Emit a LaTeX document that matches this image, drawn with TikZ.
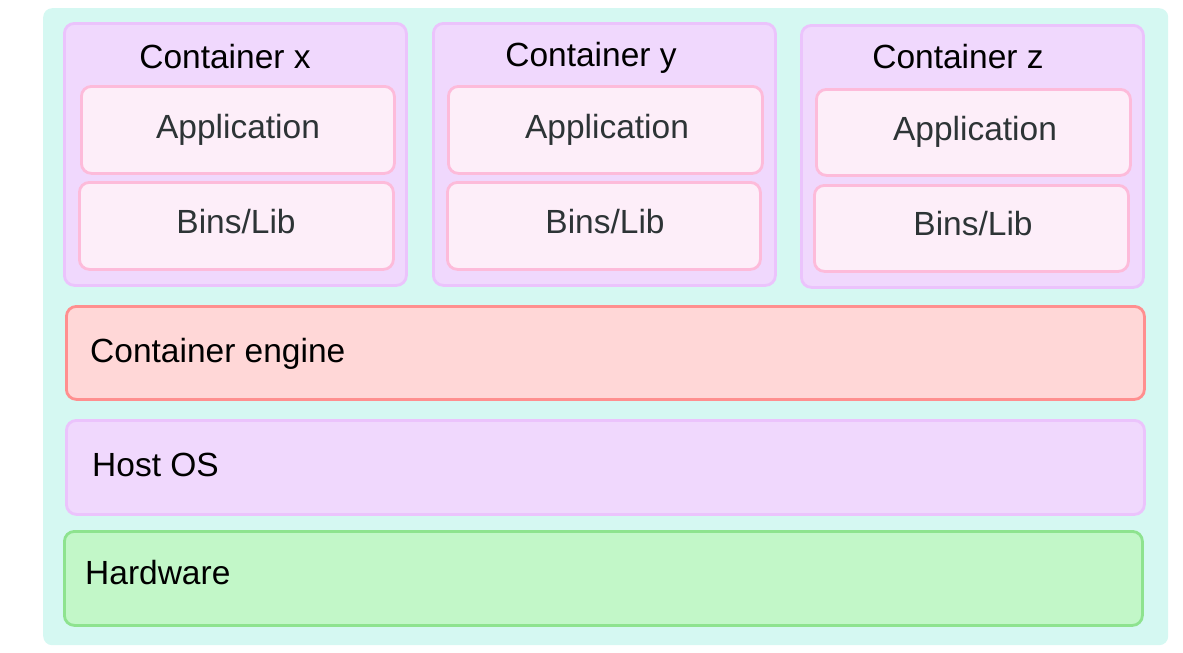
\documentclass[tikz,border=0pt]{standalone}
\usepackage{fontspec}
\setmainfont{Liberation Sans}
\definecolor{bgfill}{HTML}{D5F8F2}
\definecolor{lilacfill}{HTML}{F0D8FD}
\definecolor{lilacline}{HTML}{EBC3FC}
\definecolor{pinkfill}{HTML}{FDEEF9}
\definecolor{pinkline}{HTML}{FDBBDA}
\definecolor{redfill}{HTML}{FFD7D7}
\definecolor{redline}{HTML}{FF8F8F}
\definecolor{greenfill}{HTML}{C2F7C8}
\definecolor{greenline}{HTML}{8EE38F}
\definecolor{darktext}{HTML}{2D3436}
\begin{document}
\begin{tikzpicture}[x=1pt,y=-1pt,
  box/.style={rectangle, rounded corners=10pt, line width=2.8pt, anchor=north west, inner sep=0pt},
  lilac/.style={box, draw=lilacline, fill=lilacfill},
  pinkbox/.style={box, draw=pinkline, fill=pinkfill},
  redbox/.style={box, draw=redline, fill=redfill},
  greenbox/.style={box, draw=greenline, fill=greenfill},
  txt/.style={font=\fontsize{33.5}{40}\selectfont, inner sep=0pt, text=black},
  dtxt/.style={txt, text=darktext}]
\useasboundingbox (0,0) rectangle (1183,653);
\node[rectangle, rounded corners=9pt, fill=bgfill, anchor=north west, minimum width=1125pt, minimum height=637pt, inner sep=0pt] (bg) at (43,8) {};
% containers
\node[lilac, minimum width=342pt, minimum height=262pt] (cx) at (63,22) {};
\node[lilac, minimum width=342pt, minimum height=262pt] (cy) at (432,22) {};
\node[lilac, minimum width=342pt, minimum height=262pt] (cz) at (800,24) {};
\node[pinkbox, minimum width=313pt, minimum height=87pt] (ax) at (80,85) {};
\node[pinkbox, minimum width=314pt, minimum height=87pt] (bx) at (78,181) {};
\node[pinkbox, minimum width=314pt, minimum height=87pt] (ay) at (447,85) {};
\node[pinkbox, minimum width=313pt, minimum height=87pt] (by) at (446,181) {};
\node[pinkbox, minimum width=314pt, minimum height=86pt] (az) at (815,88) {};
\node[pinkbox, minimum width=314pt, minimum height=86pt] (bz) at (813,184) {};
\node[txt, anchor=base] (tx) at (225,68) {Container x};
\node[txt, anchor=base] (ty) at (591,66) {Container y};
\node[txt, anchor=base] (tz) at (958,68) {Container z};
\node[dtxt, anchor=base] (lax) at (238,138) {Application};
\node[dtxt, anchor=base] (lbx) at (236,233) {Bins/Lib};
\node[dtxt, anchor=base] (lay) at (607,138) {Application};
\node[dtxt, anchor=base] (lby) at (605,233) {Bins/Lib};
\node[dtxt, anchor=base] (laz) at (975,140) {Application};
\node[dtxt, anchor=base] (lbz) at (973,235) {Bins/Lib};
% layers
\node[redbox, minimum width=1078pt, minimum height=93pt] (engine) at (65,305) {};
\node[lilac, minimum width=1078pt, minimum height=94pt] (hostos) at (65,419) {};
\node[greenbox, minimum width=1078pt, minimum height=94pt] (hw) at (63,530) {};
\node[txt, anchor=base west] (lengine) at (90,362) {Container engine};
\node[txt, anchor=base west] (lhost) at (92,476) {Host OS};
\node[txt, anchor=base west] (lhw) at (85,584) {Hardware};
\end{tikzpicture}
\end{document}
